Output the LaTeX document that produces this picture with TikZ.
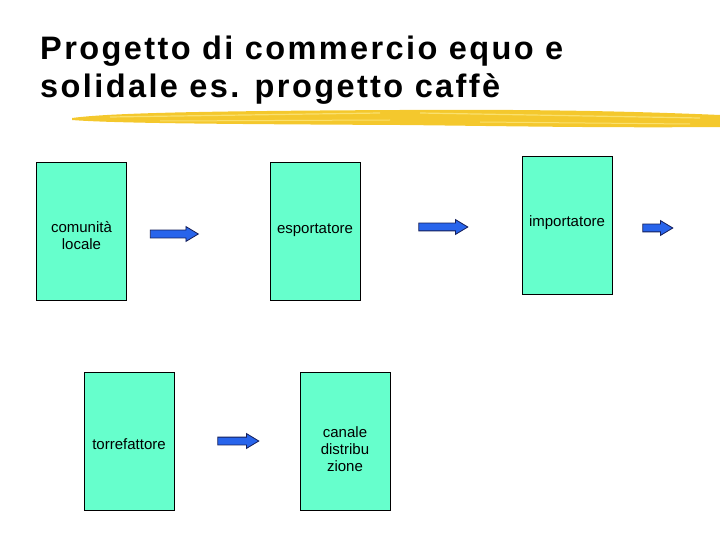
\documentclass[tikz,border=0pt]{standalone}
\usepackage{fontspec}
\setmainfont{Liberation Sans}
\usepackage{tikz}
\usetikzlibrary{shapes, shapes.arrows, positioning}

\definecolor{boxfill}{RGB}{102,255,204}
\definecolor{arrowfill}{RGB}{40,100,235}
\definecolor{arrowline}{RGB}{20,30,90}
\definecolor{brushgold}{RGB}{244,200,45}
\definecolor{brushlight}{RGB}{250,224,110}

\begin{document}
\begin{tikzpicture}[
    x=1pt, y=-1pt,
    actor/.style={rectangle, draw, line width=0.8pt, fill=boxfill, minimum width=90pt, minimum height=138pt, inner sep=0pt},
    lbl/.style={align=center, inner sep=0pt, font=\fontsize{15}{17}\selectfont},
    flow/.style={single arrow, draw=arrowline, fill=arrowfill, line width=0.8pt, text height=3.5pt, text depth=3.5pt, single arrow head extend=3.5pt, single arrow tip angle=62, inner sep=0pt}
]
\useasboundingbox (0,0) rectangle (720,540);

% Titolo
\node[anchor=north west, align=left, inner sep=0pt, font=\fontsize{32.5}{37.4}\selectfont\bfseries\addfontfeatures{LetterSpace=7.4}] (titolo) at (40,36.2) {Progetto di commercio equo e\\solidale es. progetto caffè};

% Pennellata gialla
\fill[brushgold] (72,118) .. controls (110,113) and (200,111) .. (400,110) .. controls (550,109) and (650,112) .. (720,115) -- (720,127) .. controls (600,128) and (500,126) .. (400,125) .. controls (200,124) and (110,123) .. (72,120) -- cycle;
\draw[brushlight, line width=1.2pt] (110,117) -- (380,113);
\draw[brushlight, line width=1pt] (160,121) -- (390,120);
\draw[brushlight, line width=1.2pt] (420,113) -- (700,118);
\draw[brushlight, line width=1pt] (480,122) -- (690,124);

% Filiera
\node[actor] (comunita) at (81.5,231) {};
\node[actor] (esportatore) at (315,231) {};
\node[actor] (importatore) at (567,225) {};
\node[actor] (torrefattore) at (129,441) {};
\node[actor] (canale) at (345,441) {};

\node[lbl, yshift=-5pt] (t-comunita) at (comunita) {comunità\\locale};
\node[lbl, yshift=1pt] (t-esportatore) at (esportatore) {esportatore};
\node[lbl, yshift=2pt] (t-importatore) at (importatore) {importatore};
\node[lbl, yshift=-3pt] (t-torrefattore) at (torrefattore) {torrefattore};
\node[lbl, yshift=-8pt] (t-canale) at (canale) {canale\\distribu\\zione};

% Frecce
\node[flow, minimum height=48pt, right=23pt of comunita, yshift=-3pt] (f1) {};
\node[flow, minimum height=49pt, right=58pt of esportatore, yshift=4pt] (f2) {};
\node[flow, minimum height=30pt, right=30pt of importatore, yshift=-3pt] (f3) {};
\node[flow, minimum height=41pt, right=43pt of torrefattore] (f4) {};

\end{tikzpicture}
\end{document}
